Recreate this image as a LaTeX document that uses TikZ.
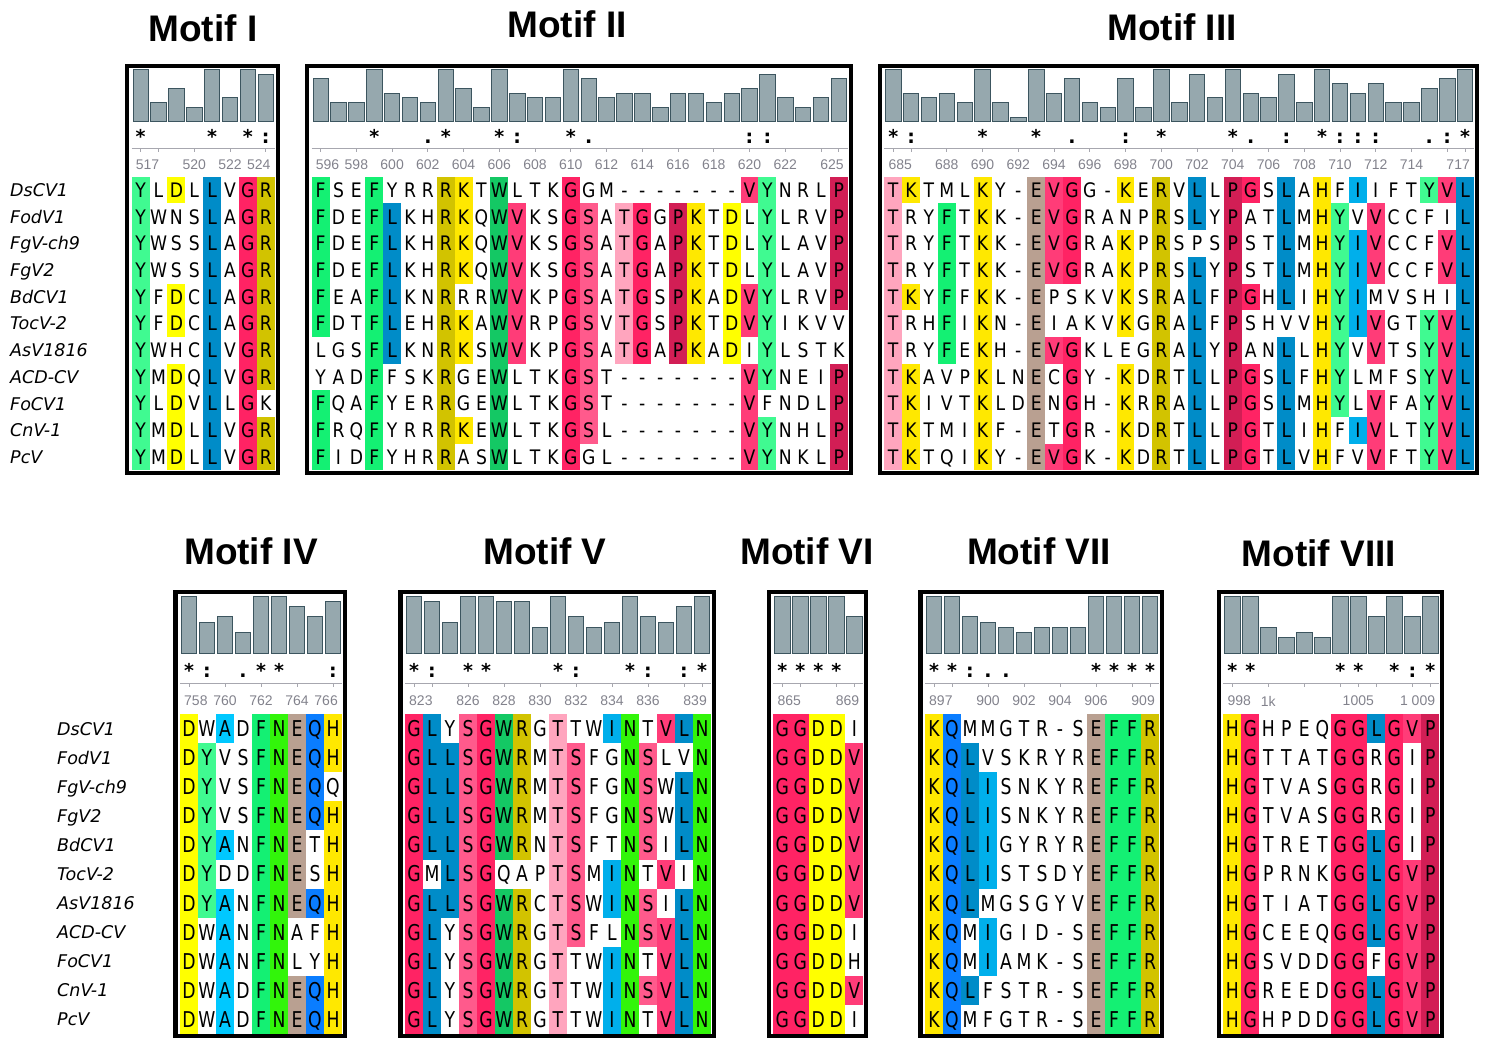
\documentclass[tikz,border=0pt]{standalone}
\usepackage{fontspec}
\setmainfont{DejaVu Sans}
\newfontfamily\residuefont{DejaVu Sans}[FakeStretch=0.86]
\newfontfamily\residuefontb{DejaVu Sans}[FakeStretch=0.79]
\newfontfamily\headfont{Liberation Sans}
\usepackage{tikz}
\usetikzlibrary{positioning}

% residue colours, one letter each (- = no colour)
\definecolor{resa}{RGB}{64,250,145}
\definecolor{resf}{RGB}{20,240,115}
\definecolor{resw}{RGB}{20,200,100}
\definecolor{resn}{RGB}{50,245,10}
\definecolor{resy}{RGB}{255,255,0}
\definecolor{resk}{RGB}{255,232,0}
\definecolor{reso}{RGB}{210,195,0}
\definecolor{resb}{RGB}{0,140,200}
\definecolor{resc}{RGB}{0,175,235}
\definecolor{resh}{RGB}{0,200,255}
\definecolor{resq}{RGB}{10,125,255}
\definecolor{resr}{RGB}{255,35,100}
\definecolor{resv}{RGB}{255,60,120}
\definecolor{ress}{RGB}{255,90,140}
\definecolor{rest}{RGB}{255,165,190}
\definecolor{resp}{RGB}{210,30,85}
\definecolor{rese}{RGB}{185,160,145}
\definecolor{resz}{RGB}{255,255,255}
\definecolor{barfill}{RGB}{150,168,174}
\definecolor{bardraw}{RGB}{60,85,95}
\definecolor{rulegray}{RGB}{130,130,140}

\ExplSyntaxOn
\cs_new:Npn \seqat #1#2 { \tl_item:Nn #1 {#2} }
\ExplSyntaxOff
\def\nofill{-}

% vertical layout of the two rows of panels
\newcommand{\toppanels}{%
  \def\frtop{66.2}\def\frbot{472.8}\def\barbase{121.7}\def\barmax{52.4}%
  \def\symy{143.5}\def\rulery{148.3}\def\numy{165}\def\rowy{176.7}%
  \def\rowh{26.7}\def\colw{17.87}\def\capht{14.6}%
  \def\resfont{\fontsize{20}{20}\selectfont\residuefont}}
\newcommand{\bottompanels}{%
  \def\frtop{592.2}\def\frbot{1035.8}\def\barbase{653.3}\def\barmax{57.3}%
  \def\symy{677.5}\def\rulery{683.3}\def\numy{701}\def\rowy{714.3}%
  \def\rowh{29.04}\def\colw{18}\def\capht{15.9}%
  \def\resfont{\fontsize{21.8}{21.8}\selectfont\residuefontb}}

% #1 name, #2 x of first column, #3 first position, #4 columns,
% #5 bar heights (of 11), #6 conservation marks, #7 ruler labels, #8 rows
\newcommand{\motifpanel}[8]{%
  \foreach \sq/\kc [count=\rr] in {#8}{%
    \foreach \cc in {1,...,#4}{%
      \edef\res{\seqat\sq\cc}\edef\kk{\seqat\kc\cc}%
      \ifx\kk\nofill\def\kk{z}\fi
      \node[cell, fill=res\kk] (#1-\rr-\cc) at ({#2+(\cc-1)*\colw}, {\rowy+(\rr-1)*\rowh}) {\res};
    }
  }
  \foreach \hh [count=\cc] in {#5}{%
    \draw[histbar] ({#2+(\cc-1)*\colw+1.2}, \barbase) rectangle ({#2+\cc*\colw-1.2}, {\barbase-\hh*\barmax/11});
  }
  \draw[rulerline] (#2, \rulery) -- ({#2+#4*\colw}, \rulery);
  \foreach \cc in {1,...,#4}{%
    \pgfmathtruncatemacro\pos{#3+\cc-1}%
    \ifodd\pos\relax\else\draw[rulerline] ({#2+(\cc-0.5)*\colw}, \rulery) -- ++(0,4);\fi
  }
  \foreach \cc/\lab in {#7}{%
    \draw[rulerline] ({#2+(\cc-0.5)*\colw}, \rulery) -- ++(0,4);
    \ifnum\cc=1
      \node[rulernum, anchor=west] (#1-num\cc) at ({#2+4}, \numy) {\lab};
    \else\ifnum\cc=#4
      \node[rulernum, anchor=east] (#1-num\cc) at ({#2+#4*\colw-4}, \numy) {\lab};
    \else
      \node[rulernum] (#1-num\cc) at ({#2+(\cc-0.5)*\colw}, \numy) {\lab};
    \fi\fi
  }
  \foreach \cc/\mk in {#6}{%
    \node[consmark] (#1-mark\cc) at ({#2+(\cc-0.5)*\colw}, \symy) {\mk};
  }
  \draw[panelframe] ({#2-4.5}, \frtop) rectangle ({#2+#4*\colw+3}, \frbot);
}

\begin{document}
\begin{tikzpicture}[x=1pt, y=-1pt,
    cell/.style={anchor=north west, inner sep=0pt, outer sep=0pt, minimum width=\colw pt, minimum height=\rowh pt, text height=\capht pt, text depth=0pt, font=\resfont},
    histbar/.style={fill=barfill, draw=bardraw, line width=0.8pt},
    rulerline/.style={draw=rulegray!70, line width=0.9pt},
    rulernum/.style={inner sep=0pt, text=rulegray, font=\fontsize{14}{14}\selectfont\headfont},
    consmark/.style={anchor=base, inner sep=0pt, font=\fontsize{19}{19}\selectfont\bfseries},
    panelframe/.style={draw=black, line width=4.3pt},
    species/.style={anchor=west, inner sep=0pt, text height=12.8pt, text depth=0pt, font=\fontsize{17.5}{17.5}\selectfont\itshape},
    title/.style={anchor=base, inner sep=0pt, font=\fontsize{37}{37}\selectfont\headfont\bfseries}
  ]
  \useasboundingbox (0,0) rectangle (1489,1038);

  \node[title] (title1) at (203,42) {Motif I};
  \node[title] (title2) at (567,38) {Motif II};
  \node[title] (title3) at (1172,41) {Motif III};
  \node[title] (title4) at (251,564) {Motif IV};
  \node[title] (title5) at (545,564) {Motif V};
  \node[title] (title6) at (807,564) {Motif VI};
  \node[title] (title7) at (1039,564) {Motif VII};
  \node[title] (title8) at (1319,566) {Motif VIII};

  \foreach \sp [count=\rr] in {DsCV1,FodV1,FgV-ch9,FgV2,BdCV1,TocV-2,AsV1816,ACD-CV,FoCV1,CnV-1,PcV}{
    \node[species] (sptop\rr) at (10, {176.7+(\rr-0.5)*26.7}) {\sp};
    \node[species] (spbot\rr) at (57, {714.3+(\rr-0.5)*29.04}) {\sp};
  }

  \toppanels
  \motifpanel{m1}{131.7}{517}{8}
    {11,4,7,3,11,5,11,10}
    {1/*,5/*,7/*,8/:}
    {1/517,4/520,6/522,8/524}
    {YLDLLVGR/a-y-b-ro,YWNSLAGR/a---b-ro,YWSSLAGR/a---b-ro,YWSSLAGR/a---b-ro,
     YFDCLAGR/a-y-b-ro,YFDCLAGR/a-y-b-ro,YWHCLVGR/a---b-ro,YMDQLVGR/a-y-b-ro,
     YLDVLLGK/a-y-b-r-,YMDLLVGR/a-y-b-ro,YMDLLVGR/a-y-b-ro}
  \motifpanel{m2}{311.7}{596}{30}
    {9,4,4,11,6,5,4,11,7,3,11,6,5,5,11,9,5,6,6,3,6,6,4,6,7,10,5,3,5,9}
    {4/*,7/.,8/*,11/*,12/:,15/*,16/.,25/:,26/:}
    {1/596,3/598,5/600,7/602,9/604,11/606,13/608,15/610,17/612,19/614,21/616,23/618,25/620,27/622,30/625}
    {FSEFYRRRKTWLTKGGM-------VYNRLP/f--f---ok-w---r---------va---p,
     FDEFLKHRKQWVKSGSATGGPKTDLYLRVP/f--fb--ok-wv--rs-tr-pk-y-a---p,
     FDEFLKHRKQWVKSGSATGAPKTDLYLAVP/f--fb--ok-wv--rs-tr-pk-y-a---p,
     FDEFLKHRKQWVKSGSATGAPKTDLYLAVP/f--fb--ok-wv--rs-tr-pk-y-a---p,
     FEAFLKNRRRWVKPGSATGSPKADVYLRVP/f--fb--o--wv--rs-tr-pk-yva---p,
     FDTFLEHRKAWVRPGSVTGSPKTDVYIKVV/f--fb--ok-wv--rs-tr-pk-yva----,
     LGSFLKNRKSWVKPGSATGAPKADIYLSTK/---fb--ok-wv--rs-tr-pk-y-a----,
     YADFFSKRGEWLTKGST-------VYNEIP/---f---o--w---rs--------va---p,
     FQAFYERRGEWLTKGST-------VFNDLP/f--f---o--w---rs--------v----p,
     FRQFYRRRKEWLTKGSL-------VYNHLP/f--f---ok-w---rs--------va---p,
     FIDFYHRRASWLTKGGL-------VYNKLP/f--f---o--w---r---------va---p}
  \motifpanel{m3}{884.3}{685}{33}
    {11,6,5,6,4,11,4,1,11,6,9,4,3,9,3,11,4,10,5,11,6,5,10,4,11,8,6,8,4,4,7,9,11}
    {1/*,2/:,6/*,9/*,11/.,14/:,16/*,20/*,21/.,23/:,25/*,26/:,27/:,28/:,31/.,32/:,33/*}
    {1/685,4/688,6/690,8/692,10/694,12/696,14/698,16/700,18/702,20/704,22/706,24/708,26/710,28/712,30/714,33/717}
    {TKTMLKY-EVGG-KERVLLPGSLAHFIIFTYVL/tk---k--evr--k-o-b-pr-b-k-c---avb,
     TRYFTKK-EVGRANPRSLYPATLMHYVVCCFIL/t--f-k--evr----o-b-p--b-ka-v----b,
     TRYFTKK-EVGRAKPRSPSPSTLMHYIVCCFVL/t--f-k--evr--k-o---p--b-kacv---vb,
     TRYFTKK-EVGRAKPRSLYPSTLMHYIVCCFVL/t--f-k--evr--k-o-b-p--b-kacv---vb,
     TKYFFKK-EPSKVKSRALFPGHLIHYIMVSHIL/tk-f-k--e----k-o-b-pr-b-kac-----b,
     TRHFIKN-EIAKVKGRALFPSHVVHYIVGTYVL/t--f-k--e----k-o-b-p----kacv--avb,
     TRYFEKH-EVGKLEGRALYPANLLHYVVTSYVL/t--f-k--evr----o-b-p--b-ka-v--avb,
     TKAVPKLNECGY-KDRTLLPGSLFHYLMFSYVL/tk---k--e-r--k-o-b-pr-b-ka----avb,
     TKIVTKLDENGH-KRRALLPGSLMHYLVFAYVL/tk---k--e-r--k-o-b-pr-b-ka-v--avb,
     TKTMIKF-ETGR-KDRTLLPGTLIHFIVLTYVL/tk---k--e-r--k-o-b-pr-b-k-cv--avb,
     TKTQIKY-EVGK-KDRTLLPGTLVHFVVFTYVL/tk---k--evr--k-o-b-pr-b-k--v--avb}

  \bottompanels
  \motifpanel{m4}{180}{758}{9}
    {11,6,7,4,11,11,9,7,10}
    {1/*,2/:,4/.,5/*,6/*,9/:}
    {1/758,3/760,5/762,7/764,9/766}
    {DWADFNEQH/y-h-fneqk,DYVSFNEQH/ya--fneqk,DYVSFNEQQ/ya--fneq-,DYVSFNEQH/ya--fneqk,
     DYANFNETH/yah-fne-k,DYDDFNESH/ya--fne-k,DYANFNEQH/yah-fneqk,DWANFNAFH/y-h-fn--k,
     DWANFNLYH/y-h-fn--k,DWADFNEQH/y-h-fneqk,DWADFNEQH/y-h-fneqk}
  \motifpanel{m5}{405}{823}{17}
    {11,10,6,11,11,10,10,5,11,7,5,6,11,7,6,9,11}
    {1/*,2/:,4/*,5/*,9/*,10/:,13/*,14/:,16/:,17/*}
    {1/823,4/826,6/828,8/830,10/832,12/834,14/836,17/839}
    {GLYSGWRGTTWINTVLN/rb-srwo-t--cn-vbn,GLLSGWRMTSFGNSLVN/rbbsrwo-ts--ns--n,
     GLLSGWRMTSFGNSWLN/rbbsrwo-ts--ns-bn,GLLSGWRMTSFGNSWLN/rbbsrwo-ts--ns-bn,
     GLLSGWRNTSFTNSILN/rbbsrwo-ts--ns-bn,GMLSGQAPTSMINTVIN/r-bsr---ts-cn-v-n,
     GLLSGWRCTSWINSILN/rbbsrwo-ts-cns-bn,GLYSGWRGTSFLNSVLN/rb-srwo-ts--nsvbn,
     GLYSGWRGTTWINTVLN/rb-srwo-t--cn-vbn,GLYSGWRGTTWINSVLN/rb-srwo-t--cnsvbn,
     GLYSGWRGTTWINTVLN/rb-srwo-t--cn-vbn}
  \motifpanel{m6}{773.3}{865}{5}
    {11,11,11,11,7}
    {1/*,2/*,3/*,4/*}
    {1/865,5/869}
    {GGDDI/rryy-,GGDDV/rryyv,GGDDV/rryyv,GGDDV/rryyv,GGDDV/rryyv,GGDDV/rryyv,
     GGDDV/rryyv,GGDDI/rryy-,GGDDH/rryy-,GGDDV/rryyv,GGDDI/rryy-}
  \motifpanel{m7}{925}{897}{13}
    {11,11,7,6,5,4,5,5,5,11,11,11,11}
    {1/*,2/*,3/:,4/.,5/.,10/*,11/*,12/*,13/*}
    {1/897,4/900,6/902,8/904,10/906,13/909}
    {KQMMGTR-SEFFR/kq-------effo,KQLVSKRYREFFR/kqb------effo,KQLISNKYREFFR/kqbc-----effo,
     KQLISNKYREFFR/kqbc-----effo,KQLIGYRYREFFR/kqbc-----effo,KQLISTSDYEFFR/kqbc-----effo,
     KQLMGSGYVEFFR/kqb------effo,KQMIGID-SEFFR/kq-c-----effo,KQMIAMK-SEFFR/kq-c-----effo,
     KQLFSTR-SEFFR/kqb------effo,KQMFGTR-SEFFR/kq-------effo}
  \motifpanel{m8}{1223.3}{998}{12}
    {11,11,5,3,4,3,11,11,7,11,7,11}
    {1/*,2/*,7/*,8/*,10/*,11/:,12/*}
    {1/998,3/1k,8/1005,12/{1 009}}
    {HGHPEQGGLGVP/kr----rrbrvp,HGTTATGGRGIP/kr----rr-r-p,HGTVASGGRGIP/kr----rr-r-p,
     HGTVASGGRGIP/kr----rr-r-p,HGTRETGGLGIP/kr----rrbr-p,HGPRNKGGLGVP/kr----rrbrvp,
     HGTIATGGLGVP/kr----rrbrvp,HGCEEQGGLGVP/kr----rrbrvp,HGSVDDGGFGVP/kr----rr-rvp,
     HGREEDGGLGVP/kr----rrbrvp,HGHPDDGGLGVP/kr----rrbrvp}
\end{tikzpicture}
\end{document}
